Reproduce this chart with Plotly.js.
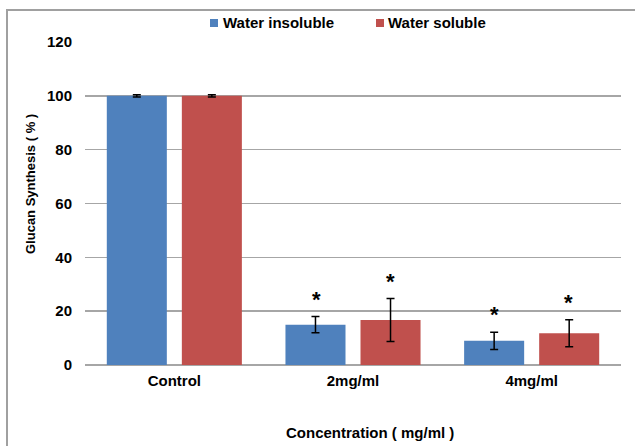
<!DOCTYPE html>
<html>
<head>
<meta charset="utf-8">
<script src="https://cdn.plot.ly/plotly-3.0.1.min.js"></script>
<style>
  html, body { margin: 0; padding: 0; background: #fff; }
  #chart { width: 635px; height: 446px; }
</style>
</head>
<body>
<div id="chart"></div>
<script>
// Glucan synthesis (%) by extract concentration
const categories = ['Control', '2mg/ml', '4mg/ml'];
const seriesNames = ['Water insoluble', 'Water soluble'];
const insolubleValues = [100, 15, 9];
const insolubleErrors = [0.4, 3, 3.2];
const solubleValues = [100, 16.7, 11.8];
const solubleErrors = [0.4, 8, 5];
// significance markers: true where a "*" is drawn over the bar
const insolubleSignif = [false, true, true];
const solubleSignif = [false, true, true];

const FONT = 'Liberation Sans, Arial, sans-serif';
const BLUE = '#4f81bd';
const RED = '#c0504d';

const traces = [
  {
    type: 'bar', name: seriesNames[0], x: categories, y: insolubleValues,
    marker: { color: BLUE },
    error_y: { type: 'data', array: insolubleErrors, visible: true, color: '#000', thickness: 1.5, width: 4 }
  },
  {
    type: 'bar', name: seriesNames[1], x: categories, y: solubleValues,
    marker: { color: RED },
    error_y: { type: 'data', array: solubleErrors, visible: true, color: '#000', thickness: 1.5, width: 4 }
  }
];

// convert pixel positions in the figure to paper fractions of the plot area
const M = { l: 85, r: 14, t: 42, b: 81 };
const PW = 635 - M.l - M.r, PH = 446 - M.t - M.b;
const px = v => (v - M.l) / PW;
const py = v => (446 - M.b - v) / PH;

const annotations = [];
function addStars(values, errors, signif, shift) {
  categories.forEach((c, i) => {
    if (!signif[i]) return;
    annotations.push({
      x: c, y: values[i] + errors[i], xref: 'x', yref: 'y',
      text: '<b>*</b>', showarrow: false, xanchor: 'center', yanchor: 'bottom',
      xshift: shift, yshift: 3,
      font: { family: FONT, size: 22, color: '#000' }
    });
  });
}
addStars(insolubleValues, insolubleErrors, insolubleSignif, -37);
addStars(solubleValues, solubleErrors, solubleSignif, 37);

// x-axis title, centred under the labels
annotations.push({
  x: px(370), y: py(432), xref: 'paper', yref: 'paper',
  text: '<b>Concentration ( mg/ml )</b>', showarrow: false,
  xanchor: 'center', yanchor: 'middle',
  font: { family: FONT, size: 15, color: '#000' }
});

// y-axis title, rotated
annotations.push({
  x: px(30), y: py(184), xref: 'paper', yref: 'paper',
  text: '<b>Glucan Synthesis ( % )</b>', showarrow: false, textangle: -90,
  xanchor: 'center', yanchor: 'middle',
  font: { family: FONT, size: 13, color: '#000' }
});

// legend: coloured squares with labels along the top edge
const legendItems = [
  { name: seriesNames[0], color: BLUE, sx: 210, tx: 221 },
  { name: seriesNames[1], color: RED, sx: 376, tx: 386 }
];
const shapes = [];
legendItems.forEach(it => {
  shapes.push({
    type: 'rect', xref: 'paper', yref: 'paper',
    x0: px(it.sx), x1: px(it.sx + 8), y0: py(27), y1: py(19),
    fillcolor: it.color, line: { width: 0 }
  });
  annotations.push({
    x: px(it.tx), y: py(23), xref: 'paper', yref: 'paper',
    text: '<b>' + it.name + '</b>', showarrow: false,
    xanchor: 'left', yanchor: 'middle',
    font: { family: FONT, size: 15, color: '#000' }
  });
});

// outer chart frame
shapes.push({
  type: 'rect', xref: 'paper', yref: 'paper',
  x0: px(7), x1: px(700), y0: py(500), y1: py(10),
  line: { color: '#a0a0a0', width: 2 }, layer: 'below'
});

const layout = {
  width: 635, height: 446,
  margin: { l: M.l, r: M.r, t: M.t, b: M.b, autoexpand: false },
  paper_bgcolor: '#fff', plot_bgcolor: '#fff',
  barmode: 'group', bargap: 0.16, bargroupgap: 0.2,
  showlegend: false,
  xaxis: {
    showgrid: false, showline: false, ticks: '', zeroline: false,
    tickfont: { family: FONT, size: 15, color: '#000', weight: 'bold' },
    ticklabelstandoff: 5
  },
  yaxis: {
    range: [0, 120], dtick: 20, showgrid: true, gridcolor: '#a6a6a6', gridwidth: 1.5,
    zeroline: true, zerolinecolor: '#a6a6a6', zerolinewidth: 1.5,
    showline: false, ticks: '', ticklabelstandoff: 12,
    tickfont: { family: FONT, size: 15, color: '#000', weight: 'bold' }
  },
  annotations: annotations,
  shapes: shapes
};

Plotly.newPlot('chart', traces, layout, { displayModeBar: false, staticPlot: true });
</script>
</body>
</html>
